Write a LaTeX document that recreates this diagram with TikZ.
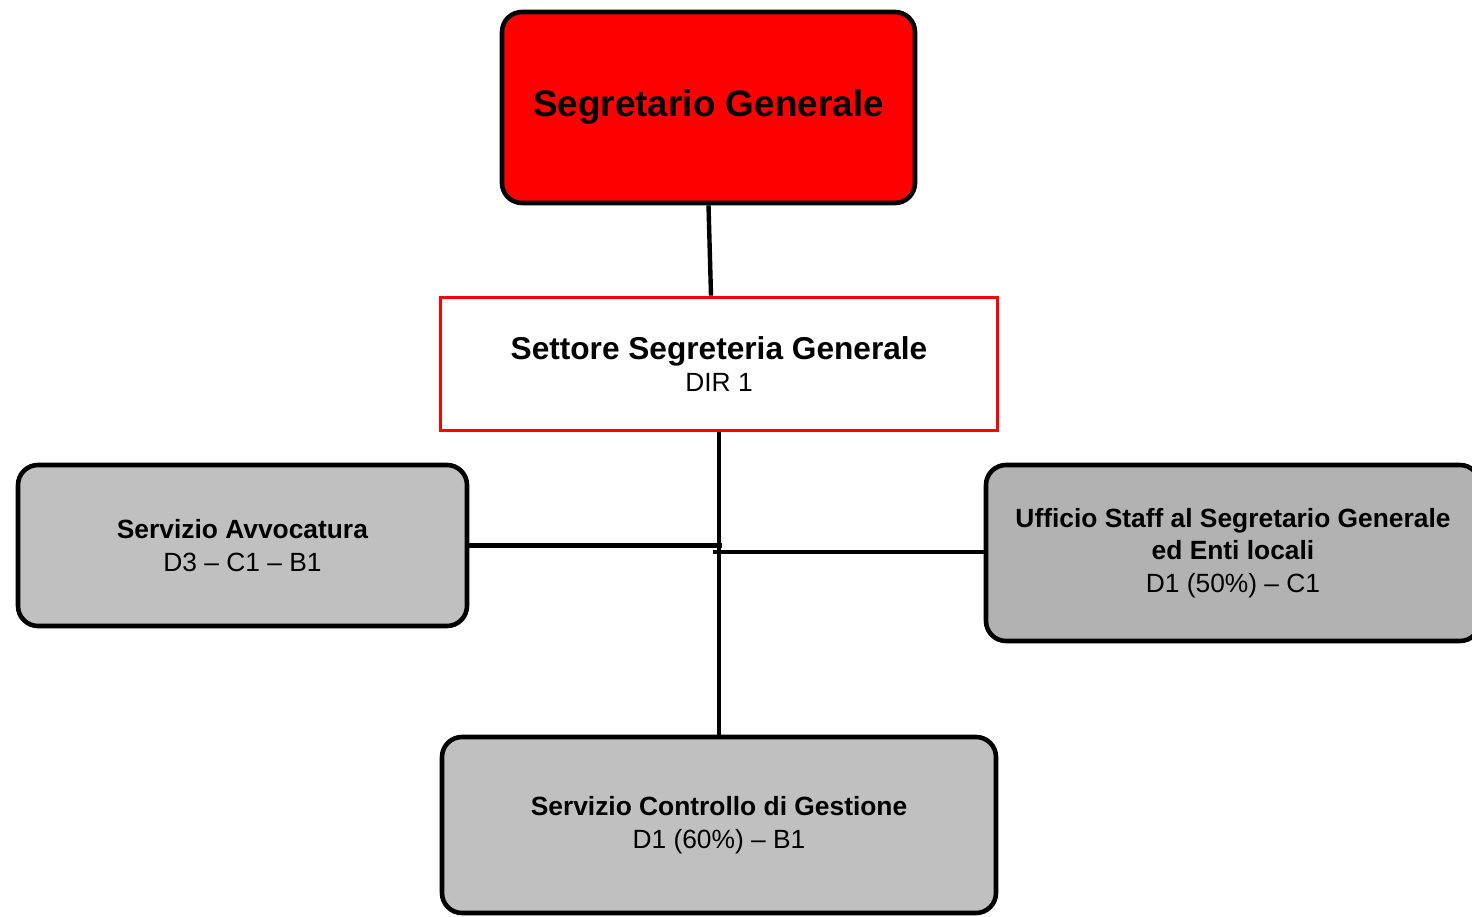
\documentclass[tikz,border=0pt]{standalone}
\usepackage{fontspec}
\setmainfont{Liberation Sans}
\usepackage{tikz}
\usetikzlibrary{positioning,calc}
\definecolor{boxgray}{HTML}{C0C0C0}
\definecolor{boxgraydark}{HTML}{B2B2B2}
\tikzset{
  capo/.style={draw=black, line width=2.6pt, fill=red, rounded corners=0.4cm,
    minimum width=8.26cm, minimum height=3.82cm, align=center,
    font=\fontsize{21}{25}\selectfont\bfseries},
  settore/.style={draw=red, line width=2.1pt, fill=white,
    minimum width=11.14cm, minimum height=2.66cm, align=center,
    font=\fontsize{15}{18.5}\selectfont},
  servizio/.style={draw=black, line width=2.6pt, fill=boxgray, rounded corners=0.4cm,
    align=center, font=\fontsize{15}{18.5}\selectfont},
  link/.style={line width=2.5pt}
}
\begin{document}
\begin{tikzpicture}
\useasboundingbox (0,0) rectangle (29.44,-18.34);
% vertici
\node[capo] (sg) at (14.17,-2.15) {\raisebox{-0.1cm}{Segretario Generale}};
\node[settore] (ssg) at (14.38,-7.28) {{\fontsize{18}{21}\selectfont\bfseries Settore Segreteria Generale}\\DIR 1};
% servizi
\node[servizio, minimum width=8.98cm, minimum height=3.22cm] (sa) at (4.85,-10.91)
  {\textbf{Servizio Avvocatura}\\D3 -- C1 -- B1};
\node[servizio, fill=boxgraydark, minimum width=9.88cm, minimum height=3.52cm] (us) at (24.66,-11.06)
  {\textbf{Ufficio Staff al Segretario Generale}\\\textbf{ed Enti locali}\\D1 (50\%) -- C1};
\node[servizio, minimum width=11.08cm, minimum height=3.52cm] (scg) at (14.38,-16.5)
  {\textbf{Servizio Controllo di Gestione}\\D1 (60\%) -- B1};
% collegamenti
\coordinate (jl) at (14.44,-10.91);
\coordinate (jr) at (14.26,-11.04);
\draw[link] (sg.south) -- ([xshift=-0.16cm]ssg.north);
\draw[link] (ssg.south) -- (scg.north);
\draw[link] (sa.east) -- (jl);
\draw[link] (jr) -- (jr -| us.west);
\end{tikzpicture}
\end{document}
